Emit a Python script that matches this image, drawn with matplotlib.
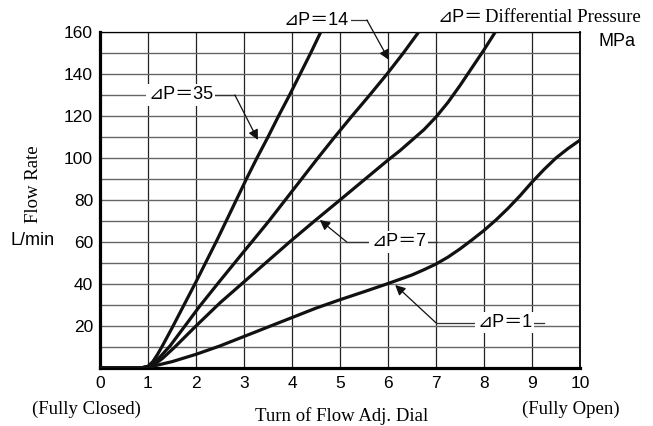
import matplotlib.pyplot as plt

# Flow rate curves (turns vs L/min)
x_35 = [0, 0.85, 1.0, 1.1, 1.2, 1.3, 1.5, 1.75, 2.0, 2.22, 2.44, 2.64, 2.84, 3.05, 3.27,
        3.5, 3.72, 3.95, 4.17, 4.39, 4.6]
y_35 = [0, 0, 0.8, 3, 6.5, 10.5, 19, 30, 41, 51, 61, 70.5, 80, 90, 100,
        110, 120, 130, 140, 150, 160]

x_14 = [0, 0.85, 1.0, 1.1, 1.25, 1.46, 1.77, 2.08, 2.5, 3.0, 3.18, 3.52, 3.86, 4.2, 4.54, 4.89,
        5.25, 5.62, 5.98, 6.32, 6.64]
y_14 = [0, 0, 0.7, 2.2, 5.2, 10.5, 20, 29.5, 41.5, 55.5, 60.5, 70, 80, 90, 100, 110,
        120, 130, 140, 150, 160]

x_7 = [0, 0.85, 1.0, 1.15, 1.3, 1.56, 2.0, 2.5, 3.0, 3.5, 3.95, 4.47, 5.0, 5.5, 6.0, 6.25,
       6.5, 6.75, 7.0, 7.25, 7.5, 7.75, 8.0, 8.25]
y_7 = [0, 0, 0.6, 2, 4.5, 10, 20, 31, 41, 51, 60, 70, 80, 89.5, 99, 103.5,
       108.5, 113.5, 119.5, 126.5, 134.5, 143, 151.5, 160.5]

x_1 = [0, 0.85, 1.0, 1.5, 2.0, 2.5, 3.0, 3.5, 4.0, 4.5, 5.0, 5.5, 6.0, 6.5, 6.75, 7.0,
       7.25, 7.5, 7.75, 8.0, 8.25, 8.5, 8.75, 9.0, 9.25, 9.5, 9.75, 10]
y_1 = [0, 0, 0.3, 3, 6.5, 10.5, 15, 19.5, 24, 28.5, 32.5, 36.3, 40.2, 44.3, 46.8, 49.5,
       52.8, 56.7, 61, 65.5, 70.5, 76, 82, 88.5, 94.5, 100, 104.5, 108.5]

x_ticks = list(range(11))
y_ticks = [20, 40, 60, 80, 100, 120, 140, 160]

sans = ['Liberation Sans', 'DejaVu Sans', 'Noto Sans CJK JP']
serif = ['Liberation Serif', 'DejaVu Serif']

fig = plt.figure(figsize=(6.53, 4.26), dpi=100)
ax = fig.add_axes([0.1531, 0.1362, 0.7351, 0.7887])

ax.set_xlim(0, 10)
ax.set_ylim(0, 160)
ax.set_xticks(x_ticks)
ax.set_yticks(y_ticks)
ax.set_yticks([10, 30, 50, 70, 90, 110, 130, 150], minor=True)
ax.tick_params(which='both', length=0)
ax.tick_params(axis='x', pad=6)
ax.tick_params(axis='y', pad=5)
for lab in ax.get_xticklabels() + ax.get_yticklabels():
    lab.set_family(sans)
    lab.set_fontsize(12.5)
ax.grid(axis='x', color='#222222', lw=0.9)
ax.grid(axis='y', which='both', color='#666666', lw=1.0)
ax.set_axisbelow(True)

ax.spines['left'].set_linewidth(2.3)
ax.spines['bottom'].set_linewidth(2.3)
ax.spines['top'].set_linewidth(0.9)
ax.spines['right'].set_linewidth(1.3)

for xs, ys in [(x_35, y_35), (x_14, y_14), (x_7, y_7), (x_1, y_1)]:
    ax.plot(xs, ys, color='#111111', lw=2.3, solid_capstyle='round',
            solid_joinstyle='round', zorder=3)

# labels with leader arrows
box = dict(facecolor='white', edgecolor='none', pad=1.5)
lead = dict(color='#333333', lw=0.9, zorder=4, clip_on=False)
arrow = dict(arrowstyle='-|>', color='#111111', lw=0.9, mutation_scale=15,
             shrinkA=0, shrinkB=0)

# dP = 35
ax.plot([2.3, 2.81], [130, 130], **lead)
ax.annotate('', xy=(3.29, 108.6), xytext=(2.81, 130), arrowprops=arrow, zorder=5)
ax.text(1.68, 130, '⊿P＝35', family=sans, fontsize=13, ha='center', va='center',
        bbox=box, zorder=6)

# dP = 14
ax.plot([5.2, 5.56], [165.7, 165.7], **lead)
ax.annotate('', xy=(6.02, 146.7), xytext=(5.56, 165.7), arrowprops=arrow,
            zorder=5, annotation_clip=False)
ax.text(4.5, 165.7, '⊿P＝14', family=sans, fontsize=13, ha='center', va='center',
        bbox=box, zorder=6, clip_on=False)

# dP = 7
ax.plot([5.14, 7.02], [60, 60], **lead)
ax.annotate('', xy=(4.58, 70.5), xytext=(5.14, 60), arrowprops=arrow, zorder=5)
ax.text(6.22, 60, '⊿P＝7', family=sans, fontsize=13, ha='center', va='center',
        bbox=box, zorder=6)

# dP = 1
ax.plot([7.0, 9.25], [21.5, 21.5], **lead)
ax.annotate('', xy=(6.15, 39.5), xytext=(7.0, 21.5), arrowprops=arrow, zorder=5)
ax.text(8.43, 21.5, '⊿P＝1', family=sans, fontsize=13, ha='center', va='center',
        bbox=box, zorder=6)

# outside texts (figure pixel coords converted to fractions)
W, H = 653, 426
def ftext(px, py, s, fam, size, **kw):
    fig.text(px / W, 1 - py / H, s, family=fam, fontsize=size, **kw)

ftext(483, 17, '⊿P＝', sans, 13, ha='right', va='center')
ftext(485, 17, 'Differential Pressure', serif, 13.5, ha='left', va='center')
ftext(617, 42, 'MPa', sans, 13, ha='center', va='center')

ftext(33, 184, 'Flow Rate', serif, 13.5, ha='center', va='center', rotation=90)
ftext(33, 241, 'L/min', sans, 13, ha='center', va='center')

ftext(86, 409, '(Fully Closed)', serif, 13.5, ha='center', va='center')
ftext(571, 409, '(Fully Open)', serif, 13.5, ha='center', va='center')
ftext(342, 416, 'Turn of Flow Adj. Dial', serif, 13.5, ha='center', va='center')

fig.savefig('out.png', dpi=100)
